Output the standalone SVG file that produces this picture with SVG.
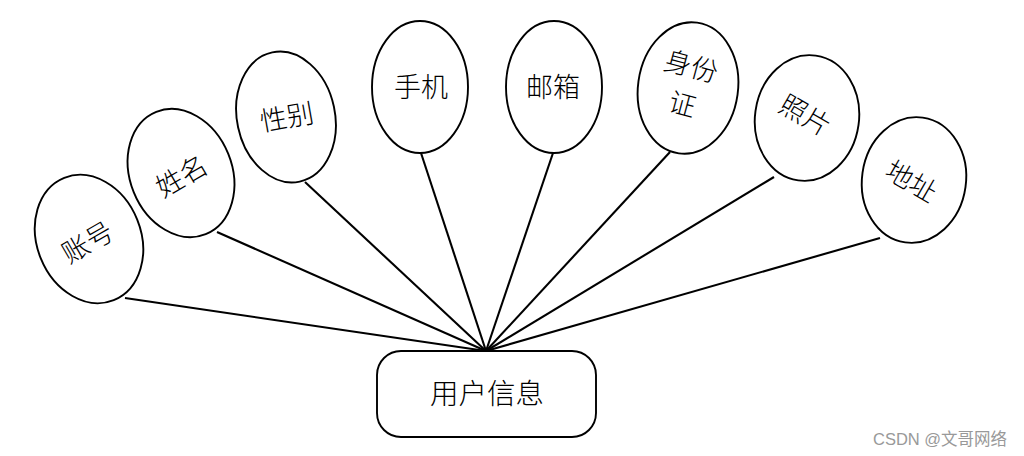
<svg xmlns="http://www.w3.org/2000/svg" width="1024" height="456" viewBox="0 0 1024 456">
<style>
.n{fill:#fff;stroke:#000;stroke-width:1.9}
.t{font-family:"Liberation Serif","Noto Sans CJK SC",serif;font-size:27px;font-weight:300;fill:#000;text-anchor:middle;dominant-baseline:central}
.c line{stroke:#000;stroke-width:2.1}
.w{font-family:"Liberation Sans","Noto Sans CJK SC",sans-serif;font-size:16.5px;fill:#999}
</style>
<rect width="1024" height="456" fill="#fff"/>
<g class="c" id="connectors">
<line x1="125" y1="298" x2="486" y2="351"/>
<line x1="217" y1="232" x2="486" y2="351"/>
<line x1="305" y1="182" x2="486" y2="351"/>
<line x1="421" y1="153" x2="486" y2="351"/>
<line x1="553" y1="153" x2="486" y2="351"/>
<line x1="670" y1="152" x2="486" y2="351"/>
<line x1="774" y1="177" x2="486" y2="351"/>
<line x1="880" y1="238" x2="486" y2="351"/>
</g>
<g id="n-zhanghao"><ellipse class="n" cx="89" cy="239" rx="52" ry="66" transform="rotate(-22 89 239)"/><text class="t" x="88" y="243" transform="rotate(-30 88 243)">账号</text></g>
<g id="n-xingming"><ellipse class="n" cx="181" cy="173" rx="51" ry="66" transform="rotate(-22 181 173)"/><text class="t" x="182" y="177" transform="rotate(-30 182 177)">姓名</text></g>
<g id="n-xingbie"><ellipse class="n" cx="286" cy="117" rx="49" ry="66" transform="rotate(-12 286 117)"/><text class="t" x="287" y="118" transform="rotate(-10 287 118)">性别</text></g>
<g id="n-shouji"><ellipse class="n" cx="420" cy="87" rx="48" ry="66"/><text class="t" x="421" y="88">手机</text></g>
<g id="n-youxiang"><ellipse class="n" cx="554" cy="87" rx="48" ry="66"/><text class="t" x="553" y="88">邮箱</text></g>
<g id="n-shenfenzheng"><ellipse class="n" cx="688" cy="88" rx="50" ry="66" transform="rotate(8 688 88)"/><text class="t" x="691" y="67" transform="rotate(15 691 67)">身份</text><text class="t" x="682" y="105" transform="rotate(15 682 105)">证</text></g>
<g id="n-zhaopian"><ellipse class="n" cx="807" cy="118" rx="52" ry="63" transform="rotate(8 807 118)"/><text class="t" x="805" y="116" transform="rotate(30 805 116)">照片</text></g>
<g id="n-dizhi"><ellipse class="n" cx="914" cy="180" rx="52" ry="63" transform="rotate(8 914 180)"/><text class="t" x="911" y="182" transform="rotate(30 911 182)">地址</text></g>
<g id="n-yonghuxinxi"><rect class="n" x="377" y="351" width="219" height="86" rx="24"/><text class="t" x="487" y="394" style="font-size:28.5px">用户信息</text></g>
<text class="w" x="873" y="445">CSDN @文哥网络</text>
</svg>
